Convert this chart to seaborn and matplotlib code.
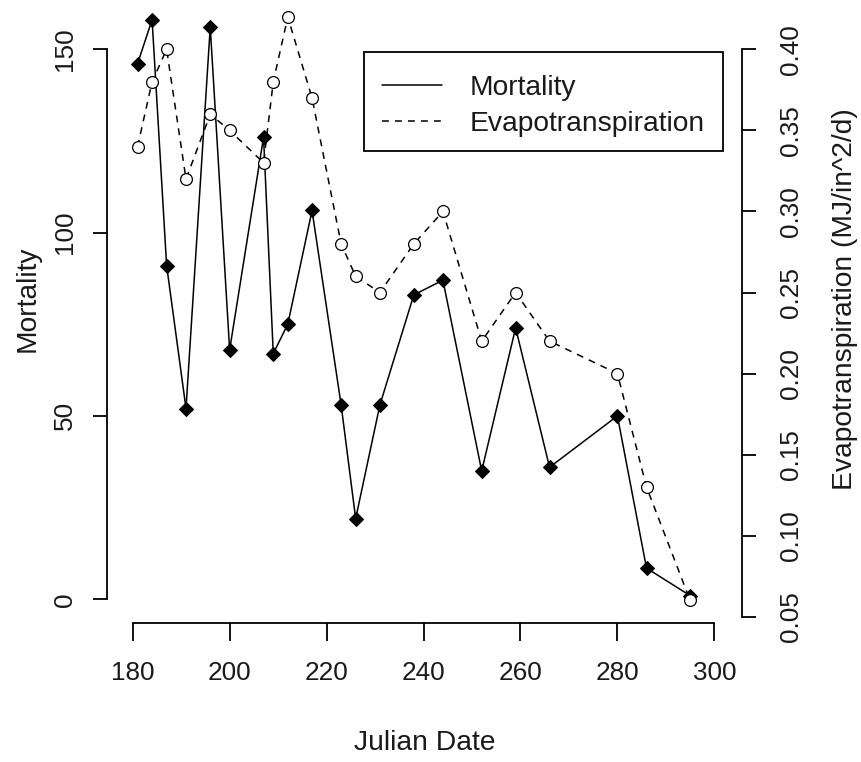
import matplotlib
matplotlib.use("Agg")
import matplotlib.pyplot as plt
from matplotlib.lines import Line2D
from matplotlib.transforms import ScaledTranslation
import seaborn as sns
import pandas as pd

# ---- data ----
julian_date = [181, 184, 187, 191, 196, 200, 207, 209, 212, 217, 223,
               226, 231, 238, 244, 252, 259, 266, 280, 286, 295]
mortality = [146, 158, 91, 52, 156, 68, 126, 67, 75, 106, 53,
             22, 53, 83, 87, 35, 74, 36, 50, 8.5, 1]
evapotranspiration = [0.34, 0.38, 0.40, 0.32, 0.36, 0.35, 0.33, 0.38, 0.42, 0.37, 0.28,
                      0.26, 0.25, 0.28, 0.30, 0.22, 0.25, 0.22, 0.20, 0.13, 0.06]
x_ticks = [180, 200, 220, 240, 260, 280, 300]
left_ticks = [0, 50, 100, 150]
right_ticks = [0.05, 0.10, 0.15, 0.20, 0.25, 0.30, 0.35, 0.40]

df = pd.DataFrame({"date": julian_date, "mort": mortality, "et": evapotranspiration})

sns.set_style("ticks")
plt.rcParams["font.family"] = ["Liberation Sans", "DejaVu Sans"]
FS = 18.8      # tick labels
FL = 20.3      # axis labels and legend
TXT = "#1a1a1a"
plt.rcParams["font.size"] = FS
DASH = (0, (4.5, 4))

fig = plt.figure(figsize=(8.61, 7.62), dpi=100)
ax = fig.add_axes([107 / 861, 1 - 623.3 / 762, 635 / 861, 648.3 / 762])
ax.set_facecolor("none")

sns.lineplot(data=df, x="date", y="mort", ax=ax, color="black", lw=1.1,
             marker="D", markersize=7, markeredgecolor="black",
             markerfacecolor="black", estimator=None, sort=False, zorder=3)

ax2 = ax.twinx()
ax2.set_position(ax.get_position())
sns.lineplot(data=df, x="date", y="et", ax=ax2, color="black", lw=1.1,
             dashes=False, marker="o", markersize=8.5, markerfacecolor="white",
             markeredgecolor="black", markeredgewidth=0.9,
             estimator=None, sort=False)
for l in ax2.get_lines():
    l.set_linestyle(DASH)

ax.set_xlim(174.7, 305.7)
ax.set_ylim(-6.54, 170.2)
ax2.set_ylim(0.0459, 0.4459)

ax.set_xticks(x_ticks)
ax.set_yticks(left_ticks)
ax2.set_yticks(right_ticks)
ax2.set_yticklabels([f"{v:.2f}" for v in right_ticks])

for a in (ax, ax2):
    for s in a.spines.values():
        s.set_visible(False)
        s.set_linewidth(1.3)
        s.set_color("black")

ax.spines["left"].set_visible(True)
ax.spines["left"].set_bounds(0, 150)
ax.spines["bottom"].set_visible(True)
ax.spines["bottom"].set_bounds(180, 300)
ax2.spines["right"].set_visible(True)
ax2.spines["right"].set_bounds(0.05, 0.40)

ax.tick_params(axis="x", length=13, width=1.3, pad=14.5, labelsize=FS,
               color="black", labelcolor=TXT)
ax.tick_params(axis="y", length=10, width=1.3, pad=11.7, labelsize=FS,
               color="black", labelcolor=TXT, labelrotation=90)
ax2.tick_params(axis="y", length=10, width=1.3, pad=16.6, labelsize=FS,
                color="black", labelcolor=TXT, labelrotation=90)
for t in ax.get_yticklabels() + ax2.get_yticklabels():
    t.set_va("center")

ax.set_xlabel("Julian Date", fontsize=FL, va="center", color=TXT)
ax.xaxis.set_label_coords(0.5, -0.1846)
ax.set_ylabel("Mortality", fontsize=FL, va="center", color=TXT)
ax.yaxis.set_label_coords(-0.1252, 0.5)
ax2.set_ylabel("Evapotranspiration (MJ/in^2/d)", fontsize=FL, va="center",
               rotation=90, color=TXT)
ax2.yaxis.set_label_coords(1.162, 0.5)

handles = [Line2D([], [], color="black", lw=1.1),
           Line2D([], [], color="black", lw=1.1, linestyle=DASH)]
leg = fig.legend(handles, ["Mortality", "Evapotranspiration"],
                 loc="upper right", bbox_to_anchor=(723.3 / 861, 1 - 51.7 / 762),
                 bbox_transform=fig.transFigure, fontsize=FL, frameon=True,
                 fancybox=False, edgecolor="black", framealpha=1,
                 handlelength=2.1, handletextpad=1.0, borderpad=0.65,
                 labelspacing=0.36, borderaxespad=0)
leg.get_frame().set_linewidth(1.3)
shift = ScaledTranslation(0, -5 / 100, fig.dpi_scale_trans)
for t in leg.get_texts():
    t.set_color(TXT)
    t.set_transform(t.get_transform() + shift)
for ln in leg.get_lines():
    ln.set_transform(ln.get_transform() + shift)

fig.savefig("out.png", dpi=100)
